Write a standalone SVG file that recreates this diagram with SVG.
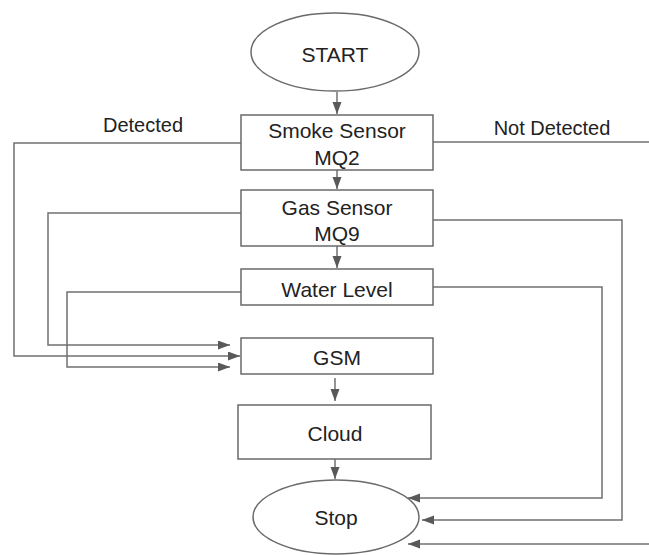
<svg xmlns="http://www.w3.org/2000/svg" width="649" height="555" viewBox="0 0 649 555">
<style>
.shape{fill:#fff;stroke:#6a6a6a;stroke-width:1.5}
.conn{fill:none;stroke:#707070;stroke-width:1.5}
.t{font-family:"Liberation Sans",Arial,sans-serif;font-size:21px;fill:#222;text-anchor:middle}
.lbl{font-family:"Liberation Sans",Arial,sans-serif;font-size:20px;fill:#222;text-anchor:middle}
</style>
<defs>
<marker id="ah" markerUnits="userSpaceOnUse" markerWidth="13" markerHeight="10" refX="12" refY="4.5" orient="auto">
<path d="M0,0 L12,4.5 L0,9 z" fill="#595959"/>
</marker>
</defs>
<rect width="649" height="555" fill="#fff"/>
<g id="connectors">
<line class="conn" x1="337" y1="92" x2="337" y2="114" marker-end="url(#ah)"/>
<line class="conn" x1="337" y1="170" x2="337" y2="189" marker-end="url(#ah)"/>
<line class="conn" x1="337" y1="246" x2="337" y2="268" marker-end="url(#ah)"/>
<line class="conn" x1="335" y1="378" x2="335" y2="401" marker-end="url(#ah)"/>
<line class="conn" x1="335" y1="459" x2="335" y2="479" marker-end="url(#ah)"/>
<polyline class="conn" points="241,143 14,143 14,356 240,356" marker-end="url(#ah)"/>
<polyline class="conn" points="241,213 48,213 48,345 230,345" marker-end="url(#ah)"/>
<polyline class="conn" points="241,292 67,292 67,367 230,367" marker-end="url(#ah)"/>
<line class="conn" x1="433" y1="142" x2="649" y2="142"/>
<polyline class="conn" points="433,220 622,220 622,520 422,520" marker-end="url(#ah)"/>
<polyline class="conn" points="433,287 602,287 602,498 408,498" marker-end="url(#ah)"/>
<line class="conn" x1="649" y1="544" x2="408" y2="544" marker-end="url(#ah)"/>
<text class="lbl" x="143" y="132">Detected</text>
<text class="lbl" x="552" y="135">Not Detected</text>
</g>
<g id="start">
<ellipse class="shape" cx="335" cy="52" rx="84" ry="39"/>
<text class="t" x="335" y="62">START</text>
</g>
<g id="smoke">
<rect class="shape" x="241" y="115" width="192" height="55"/>
<text class="t" x="337" y="138">Smoke Sensor</text>
<text class="t" x="337" y="165">MQ2</text>
</g>
<g id="gas">
<rect class="shape" x="241" y="190" width="192" height="56"/>
<text class="t" x="337" y="215">Gas Sensor</text>
<text class="t" x="337" y="241">MQ9</text>
</g>
<g id="water">
<rect class="shape" x="241" y="269" width="192" height="36"/>
<text class="t" x="337" y="297">Water Level</text>
</g>
<g id="gsm">
<rect class="shape" x="241" y="338" width="192" height="36"/>
<text class="t" x="337" y="365">GSM</text>
</g>
<g id="cloud">
<rect class="shape" x="238" y="405" width="193" height="54"/>
<text class="t" x="335" y="441">Cloud</text>
</g>
<g id="stop">
<ellipse class="shape" cx="336" cy="517" rx="83" ry="37"/>
<text class="t" x="336" y="525">Stop</text>
</g>
</svg>
